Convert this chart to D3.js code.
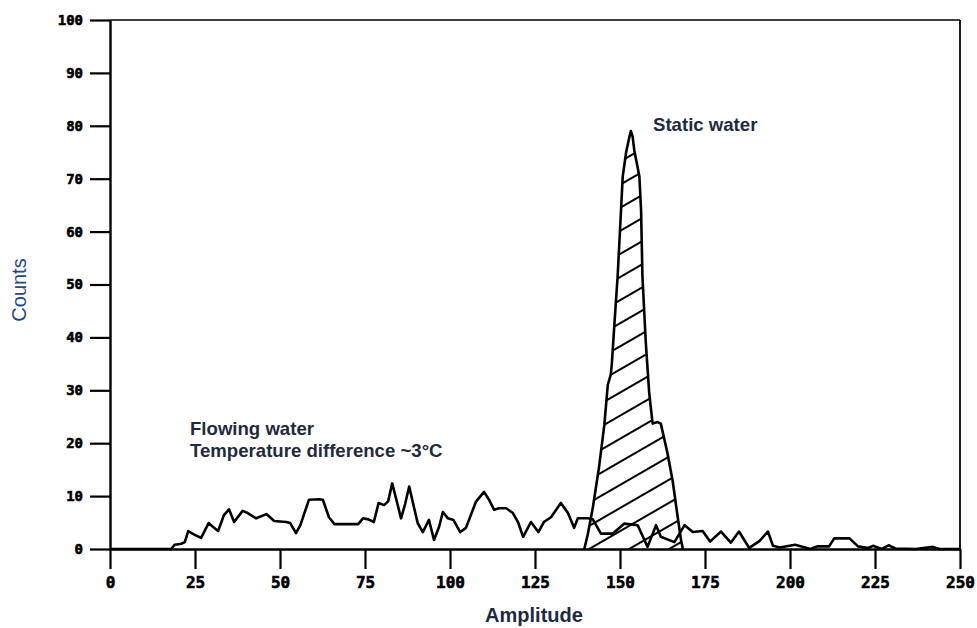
<!DOCTYPE html>
<html>
<head>
<meta charset="utf-8">
<script src="https://cdn.jsdelivr.net/npm/d3@7"></script>
<style>
  html, body { margin: 0; padding: 0; background: #fff; }
  svg { display: block; }
</style>
</head>
<body>
<svg id="chart" width="977" height="628"></svg>
<script>
// ---- data ----
const xTicks = [0, 25, 50, 75, 100, 125, 150, 175, 200, 225, 250];
const yTicks = [0, 10, 20, 30, 40, 50, 60, 70, 80, 90, 100];

// Flowing water (temperature difference ~3°C): amplitude / counts
const flowAmp = [0, 18, 19, 21, 22, 23, 24.5, 26.8, 29, 30.6, 31.8, 33.5, 35, 36.5, 39, 40.5, 43, 46, 48.3, 51.8, 53, 54.7, 56, 58.5, 61.5, 62.6, 64.4, 66, 73, 74.4, 76, 77.6, 79, 80.6, 81.8, 83, 84, 85.6, 86.8, 88, 89, 90.5, 92, 93.8, 95.3, 96.8, 97.9, 99.4, 101, 103, 104.7, 107.6, 110, 111.5, 113, 114.4, 116.5, 118.5, 120, 121.5, 123.8, 126, 127.6, 129.7, 132.6, 134.7, 136.5, 137.6, 140.6, 142, 144.4, 147.8, 151.3, 155.2, 158.1, 160.6, 162, 166, 169, 171.4, 174.3, 176.5, 179.7, 182.6, 185, 188, 191, 193.5, 195, 197, 201.5, 206, 208, 211.5, 213, 217.5, 220, 223, 224.4, 227, 229, 231, 237, 242, 244, 250];
const flowCount = [0, 0, 0.8, 1, 1.3, 3.4, 2.8, 2.1, 4.9, 4, 3.4, 6.4, 7.5, 5.1, 7.2, 6.8, 5.8, 6.6, 5.3, 5.1, 4.9, 3.0, 4.5, 9.3, 9.4, 9.3, 6.0, 4.7, 4.7, 5.8, 5.6, 5.1, 8.7, 8.3, 9, 12.4, 9.9, 5.8, 8.5, 11.8, 9, 4.9, 3.2, 5.5, 1.7, 4.2, 7.0, 5.8, 5.5, 3.2, 4.0, 8.9, 10.8, 9.3, 7.4, 7.7, 7.7, 6.8, 5.1, 2.3, 5.1, 3.2, 5.1, 6.0, 8.7, 6.8, 4.0, 5.8, 5.8, 5.6, 2.9, 2.9, 4.8, 4.5, 0.4, 4.5, 2.3, 1.3, 4.5, 3.2, 3.4, 1.4, 3.3, 1.2, 3.3, 0.2, 1.5, 3.3, 0.6, 0.3, 0.8, 0, 0.5, 0.5, 2.0, 2.0, 0.5, 0.2, 0.6, 0, 0.7, 0.1, 0, 0.4, 0, 0];

// Static water: amplitude / counts (hatched peak)
const staticAmp = [139.5, 140.5, 142, 143.8, 145.4, 146.4, 147.3, 147.6, 148.3, 149.3, 150.3, 150.8, 151.8, 152.8, 153.2, 153.7, 154.2, 155.7, 156.2, 156.6, 157.6, 158.6, 159.6, 161, 162, 164, 165.5, 167, 168, 168.5];
const staticCount = [0, 2.7, 7.8, 15.3, 23.5, 31, 33, 35, 42, 51.5, 64, 70.4, 75, 78, 79, 78, 75.4, 70.4, 64, 51.5, 38.9, 29.4, 23.7, 24, 23.7, 18, 12.8, 5.9, 1.5, 0];

// ---- chart ----
const svg = d3.select("#chart");
svg.append("rect").attr("width", 977).attr("height", 628).attr("fill", "#fff");

const x = d3.scaleLinear().domain([0, 250]).range([110, 960]);
const y = d3.scaleLinear().domain([0, 100]).range([549, 20]);

const defs = svg.append("defs");
const pat = defs.append("pattern")
  .attr("id", "hatch")
  .attr("patternUnits", "userSpaceOnUse")
  .attr("width", 40).attr("height", 20)
  .attr("patternTransform", "rotate(-30)");
pat.append("line").attr("x1", 0).attr("x2", 40).attr("y1", 10).attr("y2", 10)
  .attr("stroke", "#000").attr("stroke-width", 2);

const staticPts = staticAmp.map((a, i) => [a, staticCount[i]]);
const flowPts = flowAmp.map((a, i) => [a, flowCount[i]]);

const line = d3.line().x(d => x(d[0])).y(d => y(d[1]));
const area = d3.area().x(d => x(d[0])).y0(y(0)).y1(d => y(d[1]));

// static hatched area
svg.append("path").datum(staticPts).attr("d", area)
  .attr("fill", "url(#hatch)").attr("stroke", "none");
svg.append("path").datum(staticPts).attr("d", line)
  .attr("fill", "none").attr("stroke", "#000").attr("stroke-width", 2.6)
  .attr("stroke-linejoin", "round");

// flowing water line
svg.append("path").datum(flowPts).attr("d", line)
  .attr("fill", "none").attr("stroke", "#000").attr("stroke-width", 2.6)
  .attr("stroke-linejoin", "round");

// frame (top and right)
svg.append("line").attr("x1", x(0)).attr("x2", x(250)).attr("y1", y(100)).attr("y2", y(100))
  .attr("stroke", "#000").attr("stroke-width", 1.6);
svg.append("line").attr("x1", x(250)).attr("x2", x(250)).attr("y1", y(100)).attr("y2", y(0))
  .attr("stroke", "#000").attr("stroke-width", 1.8);

// axes
const yAxis = d3.axisLeft(y).tickValues(yTicks).tickSize(20).tickSizeOuter(0).tickPadding(7)
  .tickFormat(d3.format("d"));
const gy = svg.append("g").attr("transform", `translate(${x(0)},0)`).call(yAxis);
gy.select(".domain").attr("stroke", "#000").attr("stroke-width", 2.4);
gy.selectAll(".tick line").attr("stroke", "#000").attr("stroke-width", 2.2);
gy.selectAll(".tick text").attr("font-family", "'DejaVu Sans Mono', monospace")
  .attr("font-weight", "bold").attr("font-size", 14).attr("fill", "#000")
  .attr("stroke", "#000").attr("stroke-width", 0.6);

const xAxis = d3.axisBottom(x).tickValues(xTicks).tickSize(20).tickSizeOuter(0).tickPadding(8)
  .tickFormat(d3.format("d"));
const gx = svg.append("g").attr("transform", `translate(0,${y(0)})`).call(xAxis);
gx.select(".domain").attr("stroke", "#000").attr("stroke-width", 2.4);
gx.selectAll(".tick line").attr("stroke", "#000").attr("stroke-width", 2.2);
gx.selectAll(".tick text").attr("font-family", "'DejaVu Sans Mono', monospace")
  .attr("font-weight", "bold").attr("font-size", 16).attr("fill", "#000")
  .attr("stroke", "#000").attr("stroke-width", 0.6);

// titles & annotations
const txtColor = "#1e2a3e";
svg.append("text").attr("transform", "translate(26,290) rotate(-90)")
  .attr("text-anchor", "middle").attr("font-family", "'Liberation Sans', Arial, sans-serif")
  .attr("font-size", 20).attr("fill", "#244a80").text("Counts");
svg.append("text").attr("x", 534).attr("y", 622).attr("text-anchor", "middle")
  .attr("font-family", "'Liberation Sans', Arial, sans-serif").attr("font-weight", "bold")
  .attr("font-size", 20).attr("fill", txtColor).text("Amplitude");
svg.append("text").attr("x", 653).attr("y", 131)
  .attr("font-family", "'Liberation Sans', Arial, sans-serif").attr("font-weight", "bold")
  .attr("font-size", 18.6).attr("fill", txtColor).text("Static water");
svg.append("text").attr("x", 190).attr("y", 435)
  .attr("font-family", "'Liberation Sans', Arial, sans-serif").attr("font-weight", "bold")
  .attr("font-size", 18.6).attr("fill", txtColor).text("Flowing water");
svg.append("text").attr("x", 190).attr("y", 457)
  .attr("font-family", "'Liberation Sans', Arial, sans-serif").attr("font-weight", "bold")
  .attr("font-size", 18.6).attr("fill", txtColor).text("Temperature difference ~3°C");
</script>
</body>
</html>
